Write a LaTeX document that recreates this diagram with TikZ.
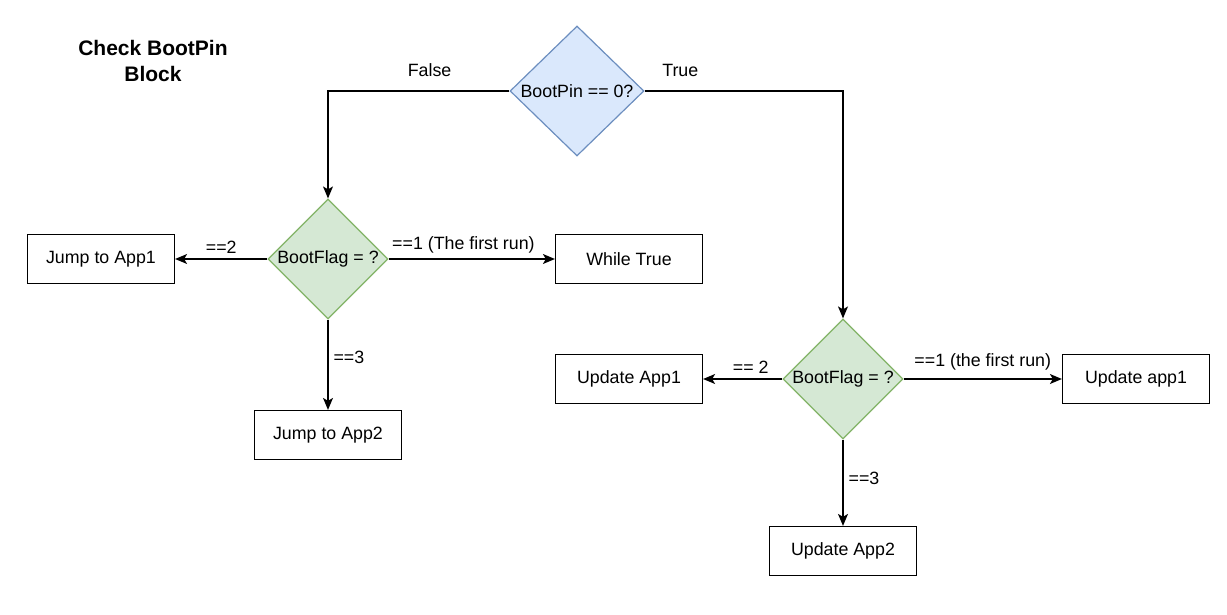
\documentclass[tikz,border=0pt]{standalone}
\usepackage{fontspec}
\setmainfont{Liberation Sans}
\usetikzlibrary{shapes.geometric, arrows.meta}
\definecolor{pinfill}{HTML}{DAE8FC}
\definecolor{pinline}{HTML}{6C8EBF}
\definecolor{flagfill}{HTML}{D5E8D4}
\definecolor{flagline}{HTML}{82B366}

\begin{document}
\begin{tikzpicture}[x=1pt, y=-1pt, font=\fontsize{17.8}{21}\selectfont,
  box/.style = {draw, line width=1.2pt, minimum width=147pt, minimum height=49pt, inner sep=0pt},
  pindec/.style = {diamond, draw=pinline, fill=pinfill, line width=1.2pt, minimum width=134pt, minimum height=130pt, inner sep=0pt},
  flagdec/.style = {diamond, draw=flagline, fill=flagfill, line width=1.2pt, minimum width=120pt, minimum height=120pt, inner sep=0pt},
  link/.style = {line width=1.2pt, -{Stealth[length=12pt, width=10pt, inset=3pt]}},
  lbl/.style = {inner sep=5pt}]
\useasboundingbox (0,0) rectangle (1227,615);

\node[align=center, font=\fontsize{21}{26}\selectfont\bfseries] (title) at (153,61) {Check BootPin\\Block};

\node[pindec] (pin) at (577,91) {BootPin == 0?};

\node[flagdec] (flagL) at (328,259) {BootFlag = ?};
\node[box] (app1) at (101,259) {Jump to App1};
\node[box] (loop) at (629,259) {While True};
\node[box] (app2) at (328,435) {Jump to App2};

\node[flagdec] (flagR) at (843,379) {BootFlag = ?};
\node[box] (upd1) at (629,379) {Update App1};
\node[box] (upd1b) at (1136,379) {Update app1};
\node[box] (upd2) at (843,551) {Update App2};

\draw[link] (pin.west) -| node[lbl, above, pos=0.22, yshift=9pt] {False} (flagL.north);
\draw[link] (pin.east) -| node[lbl, above, pos=0.09, yshift=9pt] {True} (flagR.north);

\draw[link] (flagL.west) -- node[lbl, above] {==2} (app1.east);
\draw[link] (flagL.east) -- node[lbl, above, pos=0.45] {==1 (The first run)} (loop.west);
\draw[link] (flagL.south) -- node[lbl, right, pos=0.42] {==3} (app2.north);

\draw[link] (flagR.west) -- node[lbl, above, pos=0.4] {== 2} (upd1.east);
\draw[link] (flagR.east) -- node[lbl, above, yshift=3pt] {==1 (the first run)} (upd1b.west);
\draw[link] (flagR.south) -- node[lbl, right, pos=0.45] {==3} (upd2.north);
\end{tikzpicture}
\end{document}
